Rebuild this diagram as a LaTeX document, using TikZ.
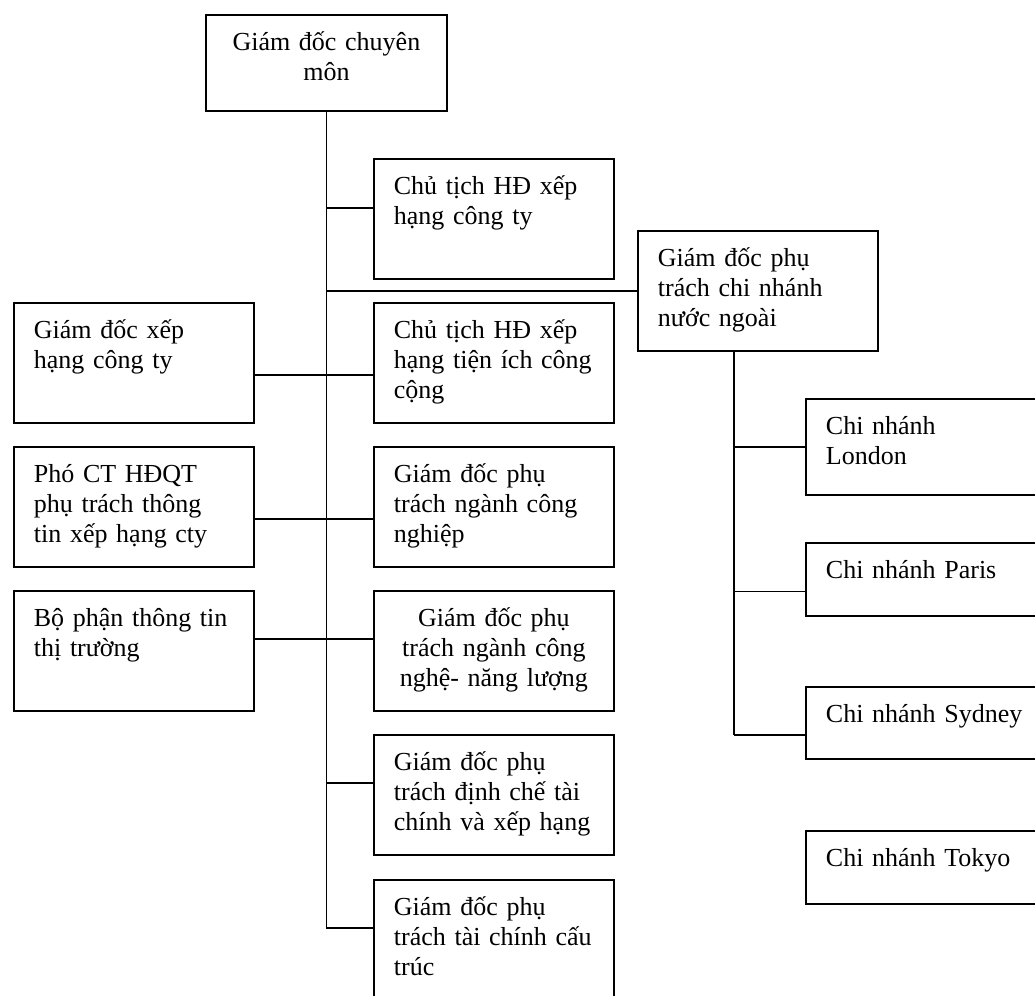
\documentclass[tikz,border=0pt]{standalone}
\usepackage{fontspec}
\setmainfont{Liberation Serif}
\usepackage{tikz}
\usetikzlibrary{calc}

\newcommand\orgfont{\fontsize{26}{30}\selectfont}

\tikzset{
  unit/.style={draw, line width=1.8pt, font=\orgfont, inner sep=0pt,
    anchor=north west, text width=240pt, text height=36pt},
  lunit/.style={unit, align=left, execute at begin node={\leftskip=20pt\relax}},
  cunit/.style={unit, align=center},
  link/.style={line width=1.8pt}
}

\begin{document}
\begin{tikzpicture}[x=1pt,y=-1pt]
    \useasboundingbox (0,0) rectangle (1035,995);

    % top
    \node[cunit, text width=241pt, text depth=60pt] (gdcm) at (205,14) {Giám đốc chuyên\\môn};

    % middle column
    \node[lunit, text depth=84pt] (cthd1) at (373,158) {Chủ tịch HĐ xếp\\hạng công ty};
    \node[lunit, text depth=84pt] (cthd2) at (373,302) {Chủ tịch HĐ xếp\\hạng tiện ích công\\cộng};
    \node[lunit, text depth=84pt] (gdcng) at (373,446) {Giám đốc phụ\\trách ngành công\\nghiệp};
    \node[cunit, text depth=84pt] (gdcnnl) at (373,590) {Giám đốc phụ\\trách ngành công\\nghệ- năng lượng};
    \node[lunit, text depth=84pt] (gddc) at (373,734) {Giám đốc phụ\\trách định chế tài\\chính và xếp hạng};
    \node[lunit, text depth=84pt] (gdtccc) at (373,879) {Giám đốc phụ\\trách tài chính cấu\\trúc};

    % left column
    \node[lunit, text depth=84pt] (gdxh) at (13,302) {Giám đốc xếp\\hạng công ty};
    \node[lunit, text depth=84pt] (pct) at (13,446) {Phó CT HĐQT\\phụ trách thông\\tin xếp hạng cty};
    \node[lunit, text depth=84pt] (bpttt) at (13,590) {Bộ phận thông tin\\thị trường};

    % branches abroad
    \node[lunit, text depth=84pt] (gdcn) at (637,230) {Giám đốc phụ\\trách chi nhánh\\nước ngoài};
    \node[lunit, text depth=60pt] (london) at (805,398) {Chi nhánh\\London};
    \node[lunit, text depth=37pt] (paris) at (805,542) {Chi nhánh Paris};
    \node[lunit, text depth=36pt] (sydney) at (805,686) {Chi nhánh Sydney};
    \node[lunit, text depth=37pt] (tokyo) at (805,830) {Chi nhánh Tokyo};

    % lines
    \draw[link] (gdcm.south) -- ($(gdcm.south |- gdtccc.west)+(0,-12)$);
    \draw[link] ($(gdcm.south |- cthd1.west)+(0,-11)$) -- ($(cthd1.west)+(0,-11)$);
    \draw[link] (gdcm.south |- gdcn.west) -- (gdcn.west);
    \draw[link] ($(gdxh.east)+(0,12)$) -- ($(cthd2.west)+(0,12)$);
    \draw[link] ($(pct.east)+(0,12)$) -- ($(gdcng.west)+(0,12)$);
    \draw[link] ($(bpttt.east)+(0,-12)$) -- ($(gdcnnl.west)+(0,-12)$);
    \draw[link] ($(gdcm.south |- gddc.west)+(0,-12)$) -- ($(gddc.west)+(0,-12)$);
    \draw[link] ($(gdcm.south |- gdtccc.west)+(0,-12)$) -- ($(gdtccc.west)+(0,-12)$);

    \coordinate (brk) at ($(gdcn.south west)!0.4!(gdcn.south east)$);
    \draw[link] (brk) -- ($(brk |- sydney.west)+(0,12)$);
    \draw[link] (brk |- london.west) -- (london.west);
    \draw[link] ($(brk |- paris.west)+(0,12)$) -- ($(paris.west)+(0,12)$);
    \draw[link] ($(brk |- sydney.west)+(0,12)$) -- ($(sydney.west)+(0,12)$);
\end{tikzpicture}
\end{document}
